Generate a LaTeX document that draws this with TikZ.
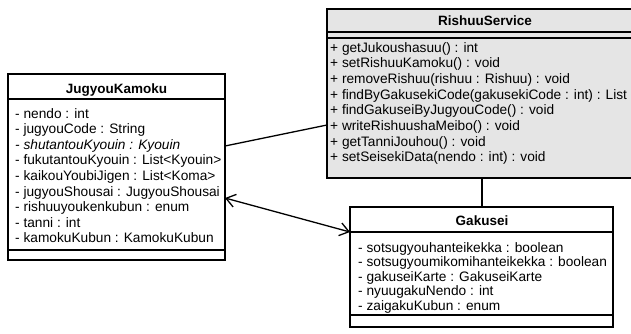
\documentclass[tikz,border=0pt]{standalone}
\usepackage{fontspec}
\setmainfont{Liberation Sans}
\usetikzlibrary{arrows.meta,calc}
\begin{document}
\begin{tikzpicture}[x=1pt,y=-1pt,
  classbox/.style={draw=black,line width=1.5pt,inner sep=0pt,outer sep=0pt,fill=white},
  svcbox/.style={classbox,fill=gray!20},
  sepline/.style={draw=black,line width=1.2pt},
  ctitle/.style={font=\fontsize{13.5}{15}\selectfont\bfseries,inner sep=0pt,anchor=base},
  member/.style={font=\fontsize{13.7}{15}\selectfont,inner sep=0pt,anchor=base west},
  assoc/.style={draw=black,line width=1.3pt},
  navarrow/.style={assoc,{Straight Barb[length=9pt,width=13pt,line width=1.3pt]}-{Straight Barb[length=9pt,width=13pt,line width=1.3pt]}}]
\useasboundingbox (0,0) rectangle (631,333);
\clip (0,0) rectangle (631,333);

% ---- RishuuService (runs past the right edge) ----
\node[svcbox,minimum width=333pt,minimum height=169pt] (rs) at (493.5,93.5) {};
\draw[sepline] (rs.west |- 0,32) -- (rs.east |- 0,32);
\draw[sepline] (rs.west |- 0,38) -- (rs.east |- 0,38);
\node[ctitle] (rst) at (485,25) {RishuuService};
\node[member] (rs1) at (330,52.0) {+ getJukoushasuu() : int};
\node[member] (rs2) at (330,67.7) {+ setRishuuKamoku() : void};
\node[member] (rs3) at (330,83.4) {+ removeRishuu(rishuu : Rishuu) : void};
\node[member] (rs4) at (330,99.1) {+ findByGakusekiCode(gakusekiCode : int) : List};
\node[member] (rs5) at (330,114.8) {+ findGakuseiByJugyouCode() : void};
\node[member] (rs6) at (330,130.5) {+ writeRishuushaMeibo() : void};
\node[member] (rs7) at (330,146.2) {+ getTanniJouhou() : void};
\node[member] (rs8) at (330,161.9) {+ setSeisekiData(nendo : int) : void};

% ---- JugyouKamoku ----
\node[classbox,minimum width=217pt,minimum height=186pt] (jk) at (116.5,167) {};
\draw[sepline] (jk.west |- 0,99) -- (jk.east |- 0,99);
\draw[sepline] (jk.west |- 0,250) -- (jk.east |- 0,250);
\node[ctitle] (jkt) at (116.5,93) {JugyouKamoku};
\node[member] (jk1) at (15,118.0) {- nendo : int};
\node[member] (jk2) at (15,133.6) {- jugyouCode : String};
\node[member] (jk3) at (15,149.2) {\itshape - shutantouKyouin : Kyouin};
\node[member] (jk4) at (15,164.8) {- fukutantouKyouin : List<Kyouin>};
\node[member] (jk5) at (15,180.4) {- kaikouYoubiJigen : List<Koma>};
\node[member] (jk6) at (15,196.0) {- jugyouShousai : JugyouShousai};
\node[member] (jk7) at (15,211.6) {- rishuuyoukenkubun : enum};
\node[member] (jk8) at (15,227.2) {- tanni : int};
\node[member] (jk9) at (15,242.8) {- kamokuKubun : KamokuKubun};

% ---- Gakusei ----
\node[classbox,minimum width=263pt,minimum height=120pt] (gk) at (481.5,267) {};
\draw[sepline] (gk.west |- 0,232) -- (gk.east |- 0,232);
\draw[sepline] (gk.west |- 0,315) -- (gk.east |- 0,315);
\node[ctitle] (gkt) at (482,225) {Gakusei};
\node[member] (gk1) at (358,252.0) {- sotsugyouhanteikekka : boolean};
\node[member] (gk2) at (358,266.6) {- sotsugyoumikomihanteikekka : boolean};
\node[member] (gk3) at (358,281.2) {- gakuseiKarte : GakuseiKarte};
\node[member] (gk4) at (358,295.8) {- nyuugakuNendo : int};
\node[member] (gk5) at (358,310.4) {- zaigakuKubun : enum};

% ---- associations ----
\draw[assoc] ([yshift=-72pt]jk.north east) -- ([yshift=-116pt]rs.north west);
\draw[navarrow] ([yshift=-124pt]jk.north east) -- ([yshift=-25pt]gk.north west);
\draw[assoc] ([xshift=0.5pt]gk.north) -- ([xshift=0.5pt]gk.north |- rs.south);
\end{tikzpicture}
\end{document}
